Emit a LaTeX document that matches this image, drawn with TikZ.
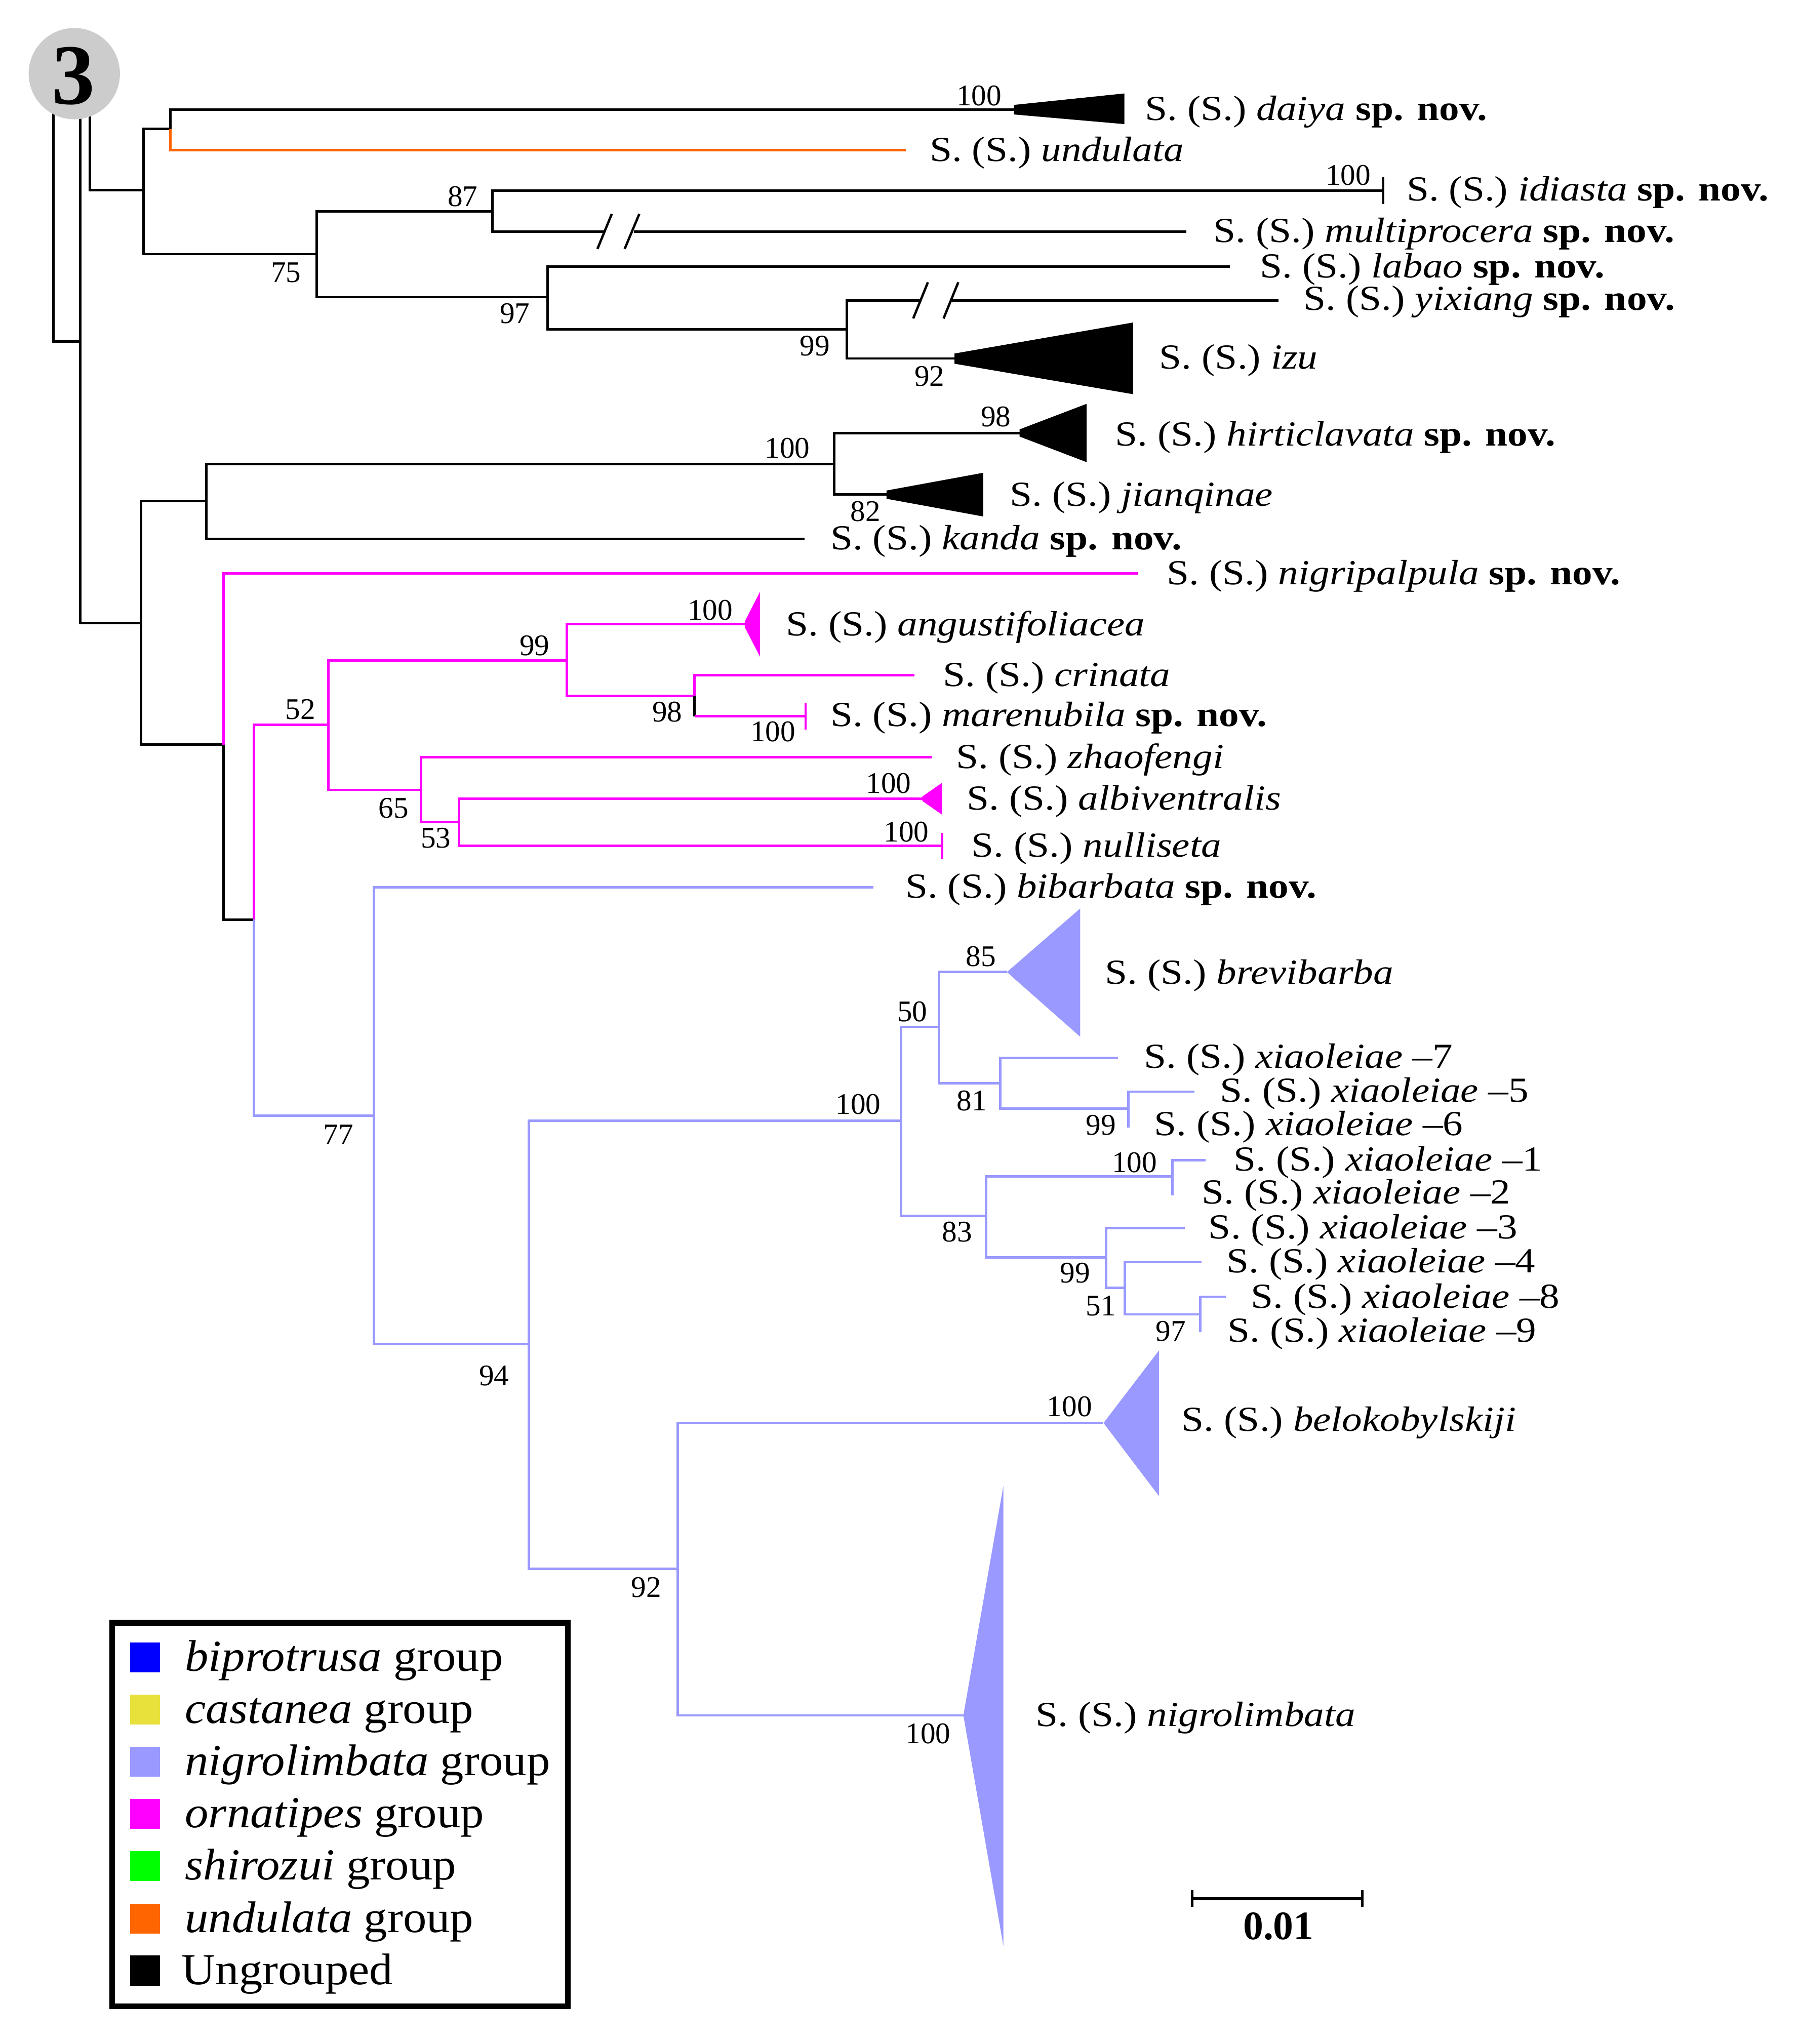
\documentclass[tikz,border=0pt]{standalone}
\usepackage{fontspec}
\setmainfont{Liberation Serif}
\newfontfamily\labfont{Liberation Serif}[FakeStretch=1.14]
\newfontfamily\legfont{Liberation Serif}[FakeStretch=1.06]
\definecolor{ornc}{HTML}{FF6600}
\definecolor{magc}{HTML}{FF00FF}
\definecolor{nigc}{HTML}{9999FF}
\definecolor{bipc}{HTML}{0000FF}
\definecolor{casc}{HTML}{E8E13C}
\definecolor{shic}{HTML}{00FF00}
\definecolor{badgec}{HTML}{CCCCCC}
\newcommand\taxon[1]{S. (S.) \textit{#1}}
\newcommand\spnov{\textbf{sp. nov.}}
\tikzset{
  blk/.style={line width=1.9pt, draw=black},
  orl/.style={line width=1.9pt, draw=ornc},
  mgl/.style={line width=1.9pt, draw=magc},
  bll/.style={line width=1.9pt, draw=nigc},
  tickline/.style={line width=1.4pt},
  brk/.style={line width=1.8pt, draw=black},
  lab/.style={font=\labfont\fontsize{27}{30}\selectfont, anchor=base west, inner sep=0pt, yshift=-8.5pt},
  num/.style={font=\fontsize{23}{25}\selectfont, anchor=base, inner sep=0pt, yshift=-7.8pt},
  leg/.style={font=\legfont\fontsize{34}{38}\selectfont, anchor=base west, inner sep=0pt, yshift=-10.5pt},
  sq/.style={minimum width=22.6pt, minimum height=23pt, inner sep=0pt, draw=none}
}
\begin{document}
\begin{tikzpicture}[x=1pt,y=-1pt]
\useasboundingbox (0,0) rectangle (1379,1568);
\fill[white] (0,0) rectangle (1379,1568);

% ---------- coordinates: internal nodes ----------
\coordinate (r0) at (41,65);
\coordinate (nA) at (61.5,262);
\coordinate (nAtop) at (61.5,65);
\coordinate (nBtop) at (69,65);
\coordinate (n1) at (110,146);
\coordinate (n2) at (130.6,99);
\coordinate (n3) at (243,195);
\coordinate (n4) at (377.6,162);
\coordinate (n5) at (420,228);
\coordinate (n6) at (649.5,252.5);
\coordinate (n7) at (108.3,478);
\coordinate (n8) at (158.3,384.5);
\coordinate (n9) at (171.6,571.3);
\coordinate (n10) at (640,355.9);
\coordinate (n11) at (194.8,705.4);
\coordinate (n12) at (251.9,556);
\coordinate (n13) at (434.7,506.5);
\coordinate (n14) at (532.7,533.7);
\coordinate (n16) at (323,605.9);
\coordinate (n17) at (352.2,630.7);
\coordinate (n20) at (287,855.8);
\coordinate (n21) at (405.7,1031);
\coordinate (n22) at (691,859.9);
\coordinate (n23) at (720.2,787.7);
\coordinate (n24) at (767.2,831);
\coordinate (n25) at (865.5,850.5);
\coordinate (n26) at (756.5,932.6);
\coordinate (n27) at (899.2,902.5);
\coordinate (n28) at (848.4,964.5);
\coordinate (n29) at (863,988);
\coordinate (n29b) at (920.6,1008.3);
\coordinate (n30) at (519.8,1203.6);

% ---------- coordinates: tips and breaks ----------
\coordinate (tdaiya) at (777.7,84.2);
\coordinate (tund) at (695,115);
\coordinate (tidi) at (1061,146.3);
\coordinate (tmul) at (910.2,177.7);
\coordinate (bkma) at (462.8,177.7);
\coordinate (bkmb) at (486.1,177.7);
\coordinate (tlab) at (943.6,204.4);
\coordinate (tyix) at (980.7,230.4);
\coordinate (bkya) at (705.5,230.4);
\coordinate (bkyb) at (728.8,230.4);
\coordinate (tizu) at (732.2,275);
\coordinate (thir) at (782.1,332.2);
\coordinate (tjia) at (680,379.3);
\coordinate (tkan) at (617,413.3);
\coordinate (tnig) at (873,439.8);
\coordinate (tang) at (571.5,478.7);
\coordinate (tcri) at (701.4,518);
\coordinate (tmar) at (618,549.5);
\coordinate (tzha) at (714.6,580.9);
\coordinate (talb) at (707.5,612.7);
\coordinate (tnul) at (722.7,649);
\coordinate (tbib) at (669.9,680.6);
\coordinate (tbre) at (772.4,745.7);
\coordinate (tx7) at (857.5,811.4);
\coordinate (tx5) at (916.2,837.4);
\coordinate (tx6) at (865.5,864.9);
\coordinate (tx1) at (924.9,890.1);
\coordinate (tx2) at (899.2,916.9);
\coordinate (tx3) at (908.7,942.2);
\coordinate (tx4) at (921.8,968.2);
\coordinate (tx8) at (940.4,994.7);
\coordinate (tx9) at (920.6,1021.9);
\coordinate (tbel) at (846.5,1091.6);
\coordinate (tngl) at (739,1315.9);

% ---------- branches ----------
\draw[blk] (r0) |- (nA);
\draw[blk] (nAtop) |- (n7);
\draw[blk] (nBtop) |- (n1);
\draw[blk] (n1) |- (n2);
\draw[blk] (n1) |- (n3);
\draw[blk] (n2) |- (tdaiya);
\draw[orl] (n2) |- (tund);
\draw[blk] (n3) |- (n4);
\draw[blk] (n3) |- (n5);
\draw[blk] (n4) |- (tidi);
\draw[blk] (n4) |- (bkma);
\draw[blk] (bkmb) -- (tmul);
\draw[blk] (n5) |- (tlab);
\draw[blk] (n5) |- (n6);
\draw[blk] (n6) |- (bkya);
\draw[blk] (bkyb) -- (tyix);
\draw[blk] (n6) |- (tizu);
\draw[blk] (n7) |- (n8);
\draw[blk] (n7) |- (n9);
\draw[blk] (n8) |- (n10);
\draw[blk] (n8) |- (tkan);
\draw[blk] (n10) |- (thir);
\draw[blk] (n10) |- (tjia);
\draw[mgl] (n9) |- (tnig);
\draw[blk] (n9) |- (n11);
\draw[mgl] (n11) |- (n12);
\draw[bll] (n11) |- (n20);
\draw[mgl] (n12) |- (n13);
\draw[mgl] (n12) |- (n16);
\draw[mgl] (n13) |- (tang);
\draw[mgl] (n13) |- (n14);
\draw[mgl] (n14) |- (tcri);
\draw[blk] (n14) -- (n14 |- tmar);
\draw[mgl] (n14 |- tmar) -- (tmar);
\draw[mgl] (n16) |- (tzha);
\draw[mgl] (n16) |- (n17);
\draw[mgl] (n17) |- (talb);
\draw[mgl] (n17) |- (tnul);
\draw[bll] (n20) |- (tbib);
\draw[bll] (n20) |- (n21);
\draw[bll] (n21) |- (n22);
\draw[bll] (n21) |- (n30);
\draw[bll] (n22) |- (n23);
\draw[bll] (n22) |- (n26);
\draw[bll] (n23) |- (tbre);
\draw[bll] (n23) |- (n24);
\draw[bll] (n24) |- (tx7);
\draw[bll] (n24) |- (n25);
\draw[bll] (n25) |- (tx5);
\draw[bll] (n25) |- (tx6);
\draw[bll] (n26) |- (n27);
\draw[bll] (n26) |- (n28);
\draw[bll] (n27) |- (tx1);
\draw[bll] (n27) |- (tx2);
\draw[bll] (n28) |- (tx3);
\draw[bll] (n28) |- (n29);
\draw[bll] (n29) |- (tx4);
\draw[bll] (n29) |- (n29b);
\draw[bll] (n29b) |- (tx8);
\draw[bll] (n29b) |- (tx9);
\draw[bll] (n30) |- (tbel);
\draw[bll] (n30) |- (tngl);

% ---------- terminal ticks ----------
\draw[tickline, black] ([yshift=10.4pt]tidi) -- ([yshift=-10.4pt]tidi);
\draw[tickline, magc] ([yshift=10.2pt]tmar) -- ([yshift=-10.2pt]tmar);
\draw[tickline, magc] ([yshift=10.2pt]tnul) -- ([yshift=-10.2pt]tnul);

% ---------- break marks ----------
\draw[brk] (458.3,190.9) -- (469.3,164.1);
\draw[brk] (479.2,190.9) -- (490.4,164.1);
\draw[brk] (700.5,244.3) -- (711.8,216.5);
\draw[brk] (723.8,244.3) -- (735.1,216.5);

% ---------- collapsed clades ----------
\fill[black] (777.7,80.5) -- (862.5,71.7) -- (862.5,95.2) -- (777.7,87.8) -- cycle;
\fill[black] (732.2,271.2) -- (869.2,247.4) -- (869.2,302.4) -- (732.2,279) -- cycle;
\fill[black] (782.1,329.4) -- (833.5,309.8) -- (833.5,354.5) -- (782.1,334.9) -- cycle;
\fill[black] (680,376.3) -- (754.2,362.7) -- (754.2,396.2) -- (680,382.6) -- cycle;
\fill[magc] (571.5,476.5) -- (583,453.9) -- (583,503.8) -- (571.5,481.5) -- cycle;
\fill[magc] (707.5,611) -- (722.7,600.5) -- (722.7,625) -- (707.5,614.4) -- cycle;
\fill[nigc] (772.4,745.7) -- (828.6,696.9) -- (828.6,795.3) -- cycle;
\fill[nigc] (846.5,1091.6) -- (889,1036) -- (889,1147.6) -- cycle;
\fill[nigc] (739,1315.9) -- (769.7,1139.7) -- (769.7,1492.8) -- cycle;

% ---------- badge ----------
\fill[badgec] (57,56.5) circle (35);
\node[font=\bfseries\fontsize{66}{70}\selectfont, anchor=base, inner sep=0pt, yshift=-22.4pt] (badge) at (56.4,57.4) {3};

% ---------- taxon labels ----------
\node[lab] (Ldaiya) at (878.1,83.9) {\taxon{daiya} \spnov};
\node[lab] (Lund) at (713,115.1) {\taxon{undulata}};
\node[lab] (Lidi) at (1078.8,145.4) {\taxon{idiasta} \spnov};
\node[lab] (Lmul) at (930.7,177.5) {\taxon{multiprocera} \spnov};
\node[lab] (Llab) at (966.4,204.4) {\taxon{labao} \spnov};
\node[lab] (Lyix) at (999.8,229.5) {\taxon{yixiang} \spnov};
\node[lab] (Lizu) at (889.2,274.6) {\taxon{izu}};
\node[lab] (Lhir) at (855.3,333.5) {\taxon{hirticlavata} \spnov};
\node[lab] (Ljia) at (774.5,379.8) {\taxon{jianqinae}};
\node[lab] (Lkan) at (636.9,413.3) {\taxon{kanda} \spnov};
\node[lab] (Lnig) at (894.9,439.8) {\taxon{nigripalpula} \spnov};
\node[lab] (Lang) at (602.8,479) {\taxon{angustifoliacea}};
\node[lab] (Lcri) at (723.2,518) {\taxon{crinata}};
\node[lab] (Lmar) at (636.9,548.7) {\taxon{marenubila} \spnov};
\node[lab] (Lzha) at (733.4,580.9) {\taxon{zhaofengi}};
\node[lab] (Lalb) at (741.5,612.7) {\taxon{albiventralis}};
\node[lab] (Lnul) at (745,649) {\taxon{nulliseta}};
\node[lab] (Lbib) at (694.3,680.3) {\taxon{bibarbata} \spnov};
\node[lab] (Lbre) at (847.6,746.5) {\taxon{brevibarba}};
\node[lab] (Lx7) at (877.4,810.9) {\taxon{xiaoleiae} –7};
\node[lab] (Lx5) at (935.6,836.9) {\taxon{xiaoleiae} –5};
\node[lab] (Lx6) at (885.3,862.4) {\taxon{xiaoleiae} –6};
\node[lab] (Lx1) at (946.3,889.6) {\taxon{xiaoleiae} –1};
\node[lab] (Lx2) at (921.8,914.9) {\taxon{xiaoleiae} –2};
\node[lab] (Lx3) at (926.9,941.7) {\taxon{xiaoleiae} –3};
\node[lab] (Lx4) at (940.8,967.7) {\taxon{xiaoleiae} –4};
\node[lab] (Lx8) at (959.4,994.9) {\taxon{xiaoleiae} –8};
\node[lab] (Lx9) at (941.6,1020.9) {\taxon{xiaoleiae} –9};
\node[lab] (Lbel) at (906.3,1089.2) {\taxon{belokobylskiji}};
\node[lab] (Lngl) at (794.4,1315.9) {\taxon{nigrolimbata}};

% ---------- support values ----------
\node[num] (s1) at (751,73) {100};
\node[num] (s2) at (1034.2,134.2) {100};
\node[num] (s3) at (354.9,150.5) {87};
\node[num] (s4) at (219.3,208.9) {75};
\node[num] (s5) at (395,240.2) {97};
\node[num] (s6) at (625,264.9) {99};
\node[num] (s7) at (713,288.5) {92};
\node[num] (s8) at (604,343.6) {100};
\node[num] (s9) at (763.9,319.4) {98};
\node[num] (s10) at (663.8,392) {82};
\node[num] (s11) at (410.1,495) {99};
\node[num] (s12) at (544.8,467.8) {100};
\node[num] (s13) at (230.5,544.1) {52};
\node[num] (s14) at (511.8,546) {98};
\node[num] (s15) at (592.9,561) {100};
\node[num] (s16) at (301.8,619.5) {65};
\node[num] (s17) at (334.4,642.7) {53};
\node[num] (s18) at (681.6,600.5) {100};
\node[num] (s19) at (695.3,638) {100};
\node[num] (s20) at (752.5,733.6) {85};
\node[num] (s21) at (699.8,775.7) {50};
\node[num] (s22) at (745.4,844.3) {81};
\node[num] (s23) at (844.5,862.9) {99};
\node[num] (s24) at (870.2,891.4) {100};
\node[num] (s25) at (734.3,944.6) {83};
\node[num] (s26) at (824.7,976.1) {99};
\node[num] (s27) at (844.5,1001.6) {51};
\node[num] (s28) at (898,1020.9) {97};
\node[num] (s29) at (259.6,870) {77};
\node[num] (s30) at (658.3,846.8) {100};
\node[num] (s31) at (379,1055) {94};
\node[num] (s32) at (495.7,1217.3) {92};
\node[num] (s33) at (820.4,1078.9) {100};
\node[num] (s34) at (712,1329.7) {100};

% ---------- scale bar ----------
\coordinate (sbL) at (914.5,1456.4);
\coordinate (sbR) at (1045,1456.4);
\draw[line width=2.4pt] (sbL) -- (sbR);
\draw[line width=2pt] ([yshift=6.5pt]sbL) -- ([yshift=-6.5pt]sbL);
\draw[line width=2pt] ([yshift=6.5pt]sbR) -- ([yshift=-6.5pt]sbR);
\node[font=\bfseries\fontsize{31}{34}\selectfont, anchor=base, inner sep=0pt, yshift=-10.5pt] (sblab) at (980.7,1477.3) {0.01};

% ---------- legend ----------
\draw[line width=4.5pt] (86,1244.8) rectangle (435.6,1539);
\node[sq, fill=bipc] (q1) at (111.3,1271.3) {};
\node[sq, fill=casc] (q2) at (111.3,1311.4) {};
\node[sq, fill=nigc] (q3) at (111.3,1351.4) {};
\node[sq, fill=magc] (q4) at (111.3,1391.5) {};
\node[sq, fill=shic] (q5) at (111.3,1431.6) {};
\node[sq, fill=ornc] (q6) at (111.3,1471.7) {};
\node[sq, fill=black] (q7) at (111.3,1511.7) {};
\node[leg] (g1) at (141.8,1271.3) {\textit{biprotrusa} group};
\node[leg] (g2) at (141.8,1311.4) {\textit{castanea} group};
\node[leg] (g3) at (141.8,1351.4) {\textit{nigrolimbata} group};
\node[leg] (g4) at (141.8,1391.5) {\textit{ornatipes} group};
\node[leg] (g5) at (141.8,1431.6) {\textit{shirozui} group};
\node[leg] (g6) at (141.8,1471.7) {\textit{undulata} group};
\node[leg] (g7) at (139.1,1511.7) {Ungrouped};
\end{tikzpicture}
\end{document}
